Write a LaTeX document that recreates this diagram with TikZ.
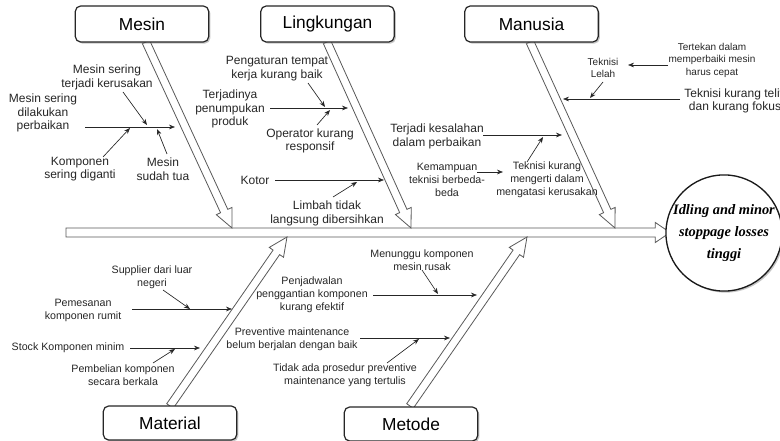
\documentclass[tikz,border=0pt]{standalone}
\usepackage{fontspec}
\setmainfont{Liberation Sans}
\newfontfamily\effectfont{Liberation Serif}
\usetikzlibrary{arrows.meta}
\usetikzlibrary{calc}
\usetikzlibrary{shadows}

\begin{document}
\begin{tikzpicture}[x=0.75pt,y=-0.75pt,
		cat/.style={rectangle,rounded corners=4pt,draw=black!85,line width=0.9pt,fill=white,minimum width=100pt,minimum height=27pt,font=\fontsize{13}{15}\selectfont,drop shadow={shadow xshift=1.2pt,shadow yshift=-1.2pt,fill=black!45}},
		txt/.style={align=center,inner sep=1pt,text=black!85,font=\fontsize{9}{10.2}\selectfont},
		small/.style={txt,font=\fontsize{8}{9.8}\selectfont},
		tiny/.style={txt,font=\fontsize{7.5}{9.4}\selectfont},
		cause/.style={-{Stealth[length=4.5pt,width=3.5pt]},line width=0.5pt,draw=black!85},
		bone/.style={draw=black!65,fill=white,line width=0.6pt}]
			\useasboundingbox (0,0) rectangle (780,441);
			
			% spine and bones
			
			\coordinate (S1) at (66,232.5);
			\coordinate (S2) at (670,232.5);
			\coordinate (B1) at (146,42);   \coordinate (T1) at (232,228);
			\coordinate (B2) at (327,42);   \coordinate (T2) at (411,228);
			\coordinate (B3) at (530,42);   \coordinate (T3) at (615,228);
			\coordinate (B4) at (170,406);  \coordinate (T4) at (287,237);
			\coordinate (B5) at (410,406);  \coordinate (T5) at (527,237);
			\foreach \a/\b/\sw/\hw/\hl in {S1/S2/3.4/7.5/11,B1/T1/3/6.5/14,B2/T2/3/6.5/14,B3/T3/3/6.5/14,B4/T4/3/6.5/14,B5/T5/3/6.5/14} {
				\coordinate (hb) at ($(\b)!\hl pt!(\a)$);
				\draw[bone] ($(\a)!\sw pt!90:(\b)$) -- ($(hb)!\sw pt!90:(\b)$) -- ($(hb)!\hw pt!90:(\b)$) -- (\b)
					-- ($(hb)!\hw pt!-90:(\b)$) -- ($(hb)!\sw pt!-90:(\b)$) -- ($(\a)!\sw pt!-90:(\b)$) -- cycle;
			}
			
			\node[cat] (mesin) at (142,24) {Mesin};
			\node[cat] (lingkungan) at (327.5,24) {Lingkungan};
			\node[cat] (manusia) at (531.5,24) {Manusia};
			\node[cat,minimum height=25.5pt] (material) at (170,423) {Material};
			\node[cat,minimum height=25.5pt] (metode) at (411,424) {Metode};
			
			\node[circle,draw=black!90,line width=1pt,fill=white,minimum size=79.5pt,inner sep=0pt,align=center,
				drop shadow={shadow xshift=1.2pt,shadow yshift=-1.2pt,fill=black!45},
				font=\effectfont\bfseries\itshape\fontsize{10.8}{16.5}\selectfont] (effect) at (724,233) {Idling and minor\\stoppage losses\\tinggi};
			
			% mesin
			
			\node[txt] (perbaikan) at (43,113) {Mesin sering\\dilakukan\\perbaikan};
			\node[txt] (kerusakan) at (107,77.5) {Mesin sering\\terjadi kerusakan};
			\node[txt] (diganti) at (80,169) {Komponen\\sering diganti};
			\node[txt] (tua) at (163,169) {Mesin\\sudah tua};
			\coordinate (m1) at (85,127);   \coordinate (m1e) at (175,127);
			\coordinate (m2) at (123,92);   \coordinate (m2e) at (147,125);
			\coordinate (m3) at (103,157);  \coordinate (m3e) at (130,128);
			\coordinate (m4) at (167,154);  \coordinate (m4e) at (157,129);
			
			% lingkungan
			
			\node[txt] (penumpukan) at (230,109) {Terjadinya\\penumpukan\\produk};
			\node[txt] (pengaturan) at (277,68.5) {Pengaturan tempat\\kerja kurang baik};
			\node[txt] (operator) at (310,141) {Operator kurang\\responsif};
			\node[txt] (kotor) at (255,180) {Kotor};
			\node[txt] (limbah) at (327,213.5) {Limbah tidak\\langsung dibersihkan};
			\coordinate (l1) at (270,108);  \coordinate (l1e) at (348,108);
			\coordinate (l2) at (308,83);   \coordinate (l2e) at (325,107);
			\coordinate (l3) at (317,125);  \coordinate (l3e) at (330,110);
			\coordinate (l4) at (275,180);  \coordinate (l4e) at (384,180);
			\coordinate (l5) at (333,197);  \coordinate (l5e) at (357,182);
			
			% manusia
			
			\node[tiny] (tertekan) at (712,60) {Tertekan dalam\\memperbaiki mesin\\harus cepat};
			\node[tiny] (lelah) at (603,68) {Teknisi\\Lelah};
			\node[txt] (teliti) at (735,101) {Teknisi kurang teliti\\dan kurang fokus};
			\node[txt] (kesalahan) at (437,136.5) {Terjadi kesalahan\\dalam perbaikan};
			\node[small] (kemampuan) at (447,180) {Kemampuan\\teknisi berbeda-\\beda};
			\node[small] (mengerti) at (547,180) {Teknisi kurang\\mengerti dalam\\mengatasi kerusakan};
			\coordinate (u1) at (668,65);   \coordinate (u1e) at (628,65);
			\coordinate (u2) at (603,82);   \coordinate (u2e) at (590,98);
			\coordinate (u3) at (680,99);   \coordinate (u3e) at (563,99);
			\coordinate (u4) at (483,135);  \coordinate (u4e) at (562,135);
			\coordinate (u5) at (477,172);  \coordinate (u5e) at (503,172);
			\coordinate (u6) at (527,162);  \coordinate (u6e) at (543,137);
			
			% material
			
			\node[small] (supplier) at (152,277.5) {Supplier dari luar\\negeri};
			\node[small] (pemesanan) at (83,310) {Pemesanan\\komponen rumit};
			\node[small] (stock) at (68,348) {Stock Komponen minim};
			\node[small] (pembelian) at (123,375) {Pembelian komponen\\secara berkala};
			\coordinate (a1) at (163,290);  \coordinate (a1e) at (190,309);
			\coordinate (a2) at (132,309);  \coordinate (a2e) at (232,309);
			\coordinate (a3) at (130,348);  \coordinate (a3e) at (200,348);
			\coordinate (a4) at (153,363);  \coordinate (a4e) at (175,349);
			
			% metode
			
			\node[small] (menunggu) at (422,260) {Menunggu komponen\\mesin rusak};
			\node[small] (penjadwalan) at (312,295) {Penjadwalan\\penggantian komponen\\kurang efektif};
			\node[small] (preventive) at (292,339.5) {Preventive maintenance\\belum berjalan dengan baik};
			\node[small] (prosedur) at (345,375) {Tidak ada prosedur preventive\\maintenance yang tertulis};
			\coordinate (e1) at (422,270);  \coordinate (e1e) at (438,294);
			\coordinate (e2) at (373,295);  \coordinate (e2e) at (477,295);
			\coordinate (e3) at (360,338);  \coordinate (e3e) at (450,338);
			\coordinate (e4) at (387,363);  \coordinate (e4e) at (419,339);
			
			\foreach \p in {m1,m2,m3,m4,l1,l2,l3,l4,l5,u1,u2,u3,u4,u5,u6,a1,a2,a3,a4,e1,e2,e3,e4} {
				\draw[cause] (\p) -- (\p e);
			}
			
		\end{tikzpicture}
\end{document}
